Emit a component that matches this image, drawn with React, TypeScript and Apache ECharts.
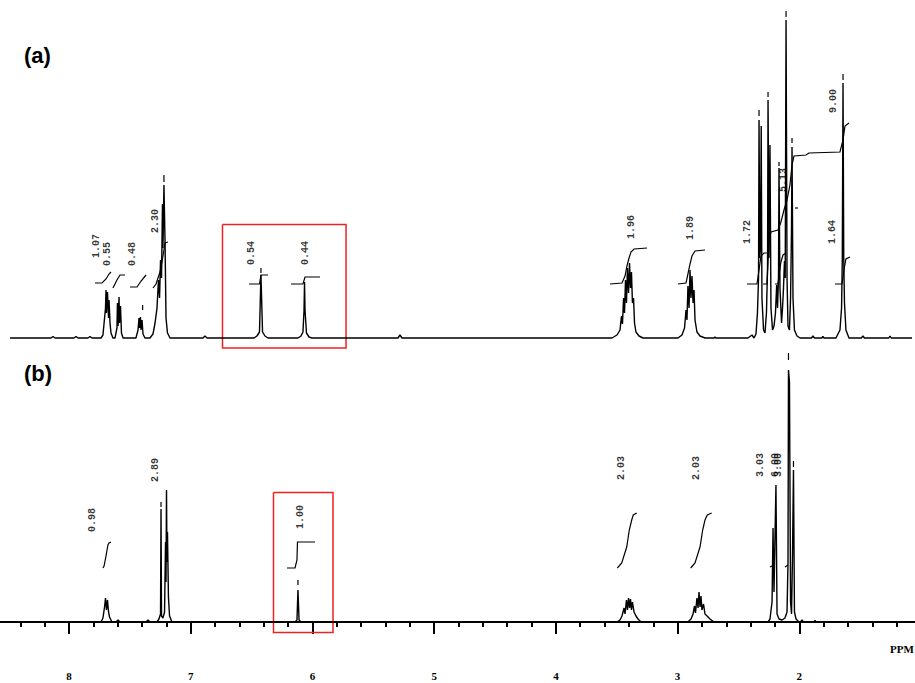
import React, { useEffect, useRef } from 'react';
import * as echarts from 'echarts';

type P = [number, number];

// ppm axis
const PPM_MIN = 1;
const PPM_MAX = 9;
const TICK_LABELS = [2, 3, 4, 5, 6, 7, 8];

// ---------- spectrum (a): [ppm, intensity] ----------
const spectrumA: P[] = [
  [8.485, 0], [8.148, 0], [8.131, 1.5], [8.115, 0], [7.959, 0], [7.942, 1.5], [7.926, 0],
  [7.844, 0], [7.827, 1.5], [7.811, 0],
  [7.737, 0], [7.721, 3], [7.7, 30], [7.696, 48], [7.692, 25], [7.684, 46], [7.675, 20], [7.671, 38],
  [7.663, 15], [7.655, 5], [7.639, 0],
  [7.622, 0], [7.606, 10], [7.602, 35], [7.597, 12], [7.589, 41], [7.585, 15], [7.577, 32], [7.569, 5], [7.556, 0],
  [7.45, 0], [7.433, 8], [7.425, 20], [7.421, 10], [7.413, 21], [7.408, 8], [7.4, 18], [7.392, 4], [7.376, 0],
  [7.335, 0], [7.31, 4], [7.293, 15], [7.277, 30], [7.265, 58], [7.256, 40], [7.248, 78], [7.24, 60],
  [7.232, 134], [7.228, 90], [7.22, 153], [7.211, 96], [7.203, 20], [7.191, 5], [7.17, 0],
  [6.899, 0], [6.883, 2], [6.866, 0],
  [6.48, 0], [6.456, 2], [6.435, 6], [6.423, 63], [6.41, 6], [6.39, 2], [6.365, 0],
  [6.119, 0], [6.094, 2], [6.078, 6], [6.069, 28], [6.065, 56], [6.061, 28], [6.049, 5], [6.028, 1], [6.004, 0],
  [5.297, 0], [5.281, 3], [5.264, 0],
  [3.539, 0], [3.498, 3], [3.473, 8], [3.461, 22], [3.453, 14], [3.444, 40], [3.436, 25], [3.428, 58],
  [3.42, 35], [3.412, 70], [3.403, 45], [3.395, 75], [3.387, 50], [3.379, 66], [3.371, 35], [3.362, 40],
  [3.354, 15], [3.342, 6], [3.317, 2], [3.284, 0],
  [2.997, 0], [2.964, 3], [2.943, 10], [2.931, 28], [2.923, 18], [2.915, 52], [2.906, 30], [2.898, 68],
  [2.89, 40], [2.882, 62], [2.873, 35], [2.865, 48], [2.857, 18], [2.841, 6], [2.816, 2], [2.775, 0],
  [2.70, 0], [2.693, 1], [2.686, 0],
  [2.422, 0], [2.389, 3], [2.372, 0], [2.356, 4], [2.344, 25], [2.335, 60], [2.331, 218], [2.325, 80],
  [2.319, 90], [2.313, 212], [2.307, 40], [2.294, 8], [2.282, 5], [2.27, 25], [2.261, 70], [2.257, 238],
  [2.249, 80], [2.241, 193], [2.233, 30], [2.22, 8], [2.208, 12], [2.196, 25], [2.186, 53], [2.179, 30],
  [2.171, 60], [2.167, 170], [2.159, 50], [2.146, 15], [2.138, 30], [2.13, 50], [2.122, 77], [2.116, 60],
  [2.109, 318], [2.101, 60], [2.093, 12], [2.081, 8], [2.072, 40], [2.064, 110], [2.06, 191], [2.052, 40],
  [2.04, 8], [2.019, 2], [1.994, 0],
  [1.9, 0], [1.888, 2], [1.876, 0], [1.815, 0], [1.806, 1.5], [1.797, 0],
  [1.699, 0], [1.666, 8], [1.653, 30], [1.647, 78], [1.641, 255], [1.635, 80], [1.629, 35], [1.617, 8], [1.592, 0],
  [1.49, 0], [1.477, 2], [1.465, 0], [1.265, 0], [1.255, 2], [1.245, 0],
  [1.074, 0],
];

// peak-pick marks (a): [ppm, from, to]
const marksA: [number, number, number][] = [
  [7.395, 28, 33], [7.22, 156, 163], [6.423, 65, 70],
  [2.331, 222, 228], [2.257, 241, 246], [2.167, 172, 176], [2.109, 321, 327], [2.06, 195, 200], [1.641, 258, 264],
];

// integral curves (a)
const integralsA: P[][] = [
  [[7.786, 55], [7.729, 55], [7.696, 59], [7.671, 64], [7.655, 66]],
  [[7.639, 50], [7.606, 58], [7.581, 63], [7.54, 63]],
  [[7.499, 51], [7.441, 51], [7.408, 57], [7.367, 63]],
  [[7.31, 50], [7.285, 54], [7.269, 60], [7.252, 66], [7.236, 76], [7.22, 88], [7.211, 95], [7.187, 96]],
  [[6.521, 54], [6.435, 54], [6.423, 63], [6.365, 63]],
  [[6.176, 54], [6.078, 54], [6.061, 61], [5.938, 61]],
  [[3.555, 54], [3.457, 55], [3.432, 62], [3.416, 72], [3.399, 80], [3.383, 86], [3.358, 89], [3.251, 90]],
  [[2.997, 54], [2.931, 55], [2.915, 64], [2.898, 74], [2.882, 82], [2.857, 87], [2.775, 88]],
  [[2.43, 54], [2.348, 54], [2.331, 68], [2.315, 82], [2.29, 85], [2.266, 85]],
  [[2.298, 54], [2.266, 54], [2.257, 76], [2.249, 98], [2.233, 106], [2.175, 108], [2.151, 116], [2.126, 128],
   [2.101, 138], [2.077, 153], [2.06, 173], [2.044, 182], [1.945, 183], [1.921, 185], [1.666, 186],
   [1.641, 198], [1.625, 212], [1.592, 215]],
  [[2.2, 54], [2.175, 54], [2.167, 63], [2.151, 76], [2.134, 83], [2.109, 85]],
  [[2.035, 130], [2.011, 130]],
  [[1.707, 54], [1.649, 54], [1.633, 68], [1.617, 79], [1.584, 81]],
];

// integral values (a): [ppm, height, text]
const labelsA: [number, number, string][] = [
  [7.77, 92, '1.07'], [7.68, 84, '0.55'], [7.482, 84, '0.48'], [7.293, 117, '2.30'],
  [6.497, 85, '0.54'], [6.053, 85, '0.44'], [3.375, 111, '1.96'], [2.89, 110, '1.89'],
  [2.422, 106, '1.72'], [2.134, 158, '5.13'], [1.723, 237, '9.00'], [1.731, 106, '1.64'],
];

// highlighted region (a): [ppm, height] corners
const boxA: P[] = [[6.739, 113.5], [5.724, 113.5], [5.724, -10], [6.739, -10], [6.739, 113.5]];

// ---------- spectrum (b) ----------
const spectrumB: P[] = [
  [8.485, 0],
  [7.737, 0], [7.721, 4], [7.708, 15], [7.7, 24], [7.692, 12], [7.684, 22], [7.675, 10], [7.667, 5], [7.647, 0],
  [7.614, 0], [7.597, 2], [7.581, 0], [7.367, 0], [7.351, 2], [7.335, 0],
  [7.277, 0], [7.261, 3], [7.248, 8], [7.244, 113], [7.24, 6], [7.228, 4], [7.215, 10], [7.207, 80], [7.203, 40],
  [7.199, 132], [7.195, 60], [7.191, 90], [7.183, 25], [7.174, 6], [7.154, 0],
  [6.143, 0], [6.127, 2], [6.119, 32], [6.11, 2], [6.094, 0],
  [3.498, 0], [3.473, 2], [3.457, 6], [3.44, 14], [3.432, 8], [3.42, 22], [3.412, 12], [3.403, 24], [3.395, 14],
  [3.387, 23], [3.379, 12], [3.371, 20], [3.358, 10], [3.342, 6], [3.325, 3], [3.301, 0],
  [2.915, 0], [2.89, 3], [2.873, 8], [2.861, 16], [2.853, 9], [2.841, 24], [2.832, 14], [2.824, 30], [2.816, 15],
  [2.808, 26], [2.8, 12], [2.787, 18], [2.775, 8], [2.758, 6], [2.734, 3], [2.701, 0],
  [2.257, 0], [2.241, 3], [2.224, 20], [2.216, 94], [2.208, 30], [2.192, 137], [2.183, 8], [2.167, 3], [2.142, 2],
  [2.118, 4], [2.101, 10], [2.093, 60], [2.089, 252], [2.081, 240], [2.072, 20], [2.064, 8], [2.056, 67],
  [2.048, 152], [2.04, 10], [2.027, 3], [2.003, 0],
  [1.99, 0], [1.978, 2], [1.966, 0], [1.881, 0], [1.871, 1.5], [1.861, 0],
  [1.049, 0],
];

const marksB: [number, number, number][] = [
  [7.244, 115, 120], [6.119, 37, 42], [2.089, 262, 269], [2.048, 155, 161],
];

const integralsB: P[][] = [
  [[7.721, 54], [7.712, 56], [7.696, 66], [7.68, 77], [7.671, 79], [7.655, 80]],
  [[6.209, 54], [6.143, 54], [6.127, 62], [6.123, 80], [5.979, 80]],
  [[3.495, 54], [3.459, 59], [3.418, 75], [3.397, 92], [3.377, 102], [3.364, 107], [3.336, 109]],
  [[2.892, 54], [2.857, 59], [2.816, 75], [2.794, 92], [2.775, 102], [2.756, 107], [2.72, 109]],
  [[2.241, 55], [2.208, 57]],
  [[2.118, 55], [2.093, 57]],
];

const labelsB: [number, number, string][] = [
  [7.803, 102, '0.98'], [7.293, 152, '2.89'], [6.094, 105, '1.00'], [3.465, 154, '2.03'],
  [2.841, 154, '2.03'], [2.323, 157, '3.03'], [2.192, 157, '6.00'], [2.171, 157, '3.00'],
];

const boxB: P[] = [[6.32, 129.5], [5.831, 129.5], [5.831, -10.5], [6.32, -10.5], [6.32, 129.5]];

// ---------- layout ----------
const PX_PER_PPM = 121.72;
const X_OF_8 = 69;
const W = 915;
const H = 683;
const GRID_LEFT = X_OF_8 - (PPM_MAX - 8) * PX_PER_PPM;
const GRID_RIGHT = W - (X_OF_8 + (8 - PPM_MIN) * PX_PER_PPM);

function polySeries(segs: P[][], gi: number, color: string, width: number) {
  return {
    type: 'custom',
    xAxisIndex: gi,
    yAxisIndex: gi,
    silent: true,
    clip: false,
    data: segs.map((s, i) => [s[0][0], s[0][1], i]),
    renderItem: (params: any, api: any) => {
      const seg = segs[params.dataIndex];
      return {
        type: 'polyline',
        shape: { points: seg.map((p) => api.coord(p)) },
        style: { stroke: color, lineWidth: width, fill: 'none' },
      };
    },
  };
}

function labelSeries(labels: [number, number, string][], gi: number) {
  return {
    type: 'scatter',
    xAxisIndex: gi,
    yAxisIndex: gi,
    silent: true,
    symbolSize: 1,
    itemStyle: { color: 'rgba(0,0,0,0)' },
    data: labels.map(([p, v, t]) => ({ value: [p, v], name: t })),
    label: {
      show: true,
      position: 'inside',
      rotate: 90,
      formatter: '{b}',
      color: '#000',
      fontFamily: 'Liberation Mono',
      fontWeight: 'bold',
      fontSize: 10,
    },
  };
}

function lineSeries(data: P[], gi: number) {
  return {
    type: 'line',
    xAxisIndex: gi,
    yAxisIndex: gi,
    data,
    showSymbol: false,
    silent: true,
    clip: false,
    lineStyle: { color: '#000', width: 1.4 },
  };
}

export default function App() {
  const ref = useRef<HTMLDivElement>(null);
  useEffect(() => {
    const chart = echarts.init(ref.current!, null, { renderer: 'svg', width: W, height: H });
    const markSegs = (m: [number, number, number][]): P[][] => m.map(([p, a, b]) => [[p, a], [p, b]]);
    chart.setOption({
      animation: false,
      backgroundColor: '#fff',
      grid: [
        { left: GRID_LEFT, right: GRID_RIGHT, top: 0, height: 358, outerBoundsMode: 'none', containLabel: false },
        { left: GRID_LEFT, right: GRID_RIGHT, top: 340, height: 317, outerBoundsMode: 'none', containLabel: false },
      ],
      xAxis: [
        { gridIndex: 0, type: 'value', min: PPM_MIN, max: PPM_MAX, inverse: true, show: false },
        {
          gridIndex: 1,
          type: 'value',
          min: PPM_MIN,
          max: PPM_MAX,
          interval: 1,
          inverse: true,
          position: 'bottom',
          axisLine: { show: true, lineStyle: { color: '#000', width: 2 } },
          axisTick: { show: true, length: 12, lineStyle: { color: '#000', width: 2 } },
          minorTick: { show: true, splitNumber: 5, length: 5, lineStyle: { color: '#000', width: 2 } },
          splitLine: { show: false },
          minorSplitLine: { show: false },
          axisLabel: {
            color: '#000',
            fontFamily: 'Liberation Serif',
            fontWeight: 'bold',
            fontSize: 11,
            margin: 13,
            formatter: (v: number) => (TICK_LABELS.includes(v) ? String(v) : ''),
          },
        },
      ],
      yAxis: [
        { gridIndex: 0, type: 'value', min: -20, max: 338, show: false, splitLine: { show: false } },
        { gridIndex: 1, type: 'value', min: -35, max: 282, show: false, splitLine: { show: false } },
      ],
      graphic: [
        { type: 'rect', left: 0, top: 650, shape: { width: 9, height: 12 }, style: { fill: '#fff' }, z: 100 },
        { type: 'text', left: 24, top: 44, style: { text: '(a)', font: 'bold 22px "Liberation Sans", Arial', fill: '#000' } },
        { type: 'text', left: 24, top: 362, style: { text: '(b)', font: 'bold 22px "Liberation Sans", Arial', fill: '#000' } },
        { type: 'text', left: 890, top: 643, style: { text: 'PPM', font: 'bold 11px "Liberation Serif"', fill: '#000' } },
      ],
      series: [
        lineSeries(spectrumA, 0),
        lineSeries(spectrumB, 1),
        polySeries(integralsA, 0, '#000', 1.2),
        polySeries(integralsB, 1, '#000', 1.2),
        polySeries(markSegs(marksA), 0, '#000', 1.2),
        polySeries(markSegs(marksB), 1, '#000', 1.2),
        polySeries([boxA], 0, '#ee2222', 1.5),
        polySeries([boxB], 1, '#ee2222', 1.5),
        labelSeries(labelsA, 0),
        labelSeries(labelsB, 1),
      ],
    });
    return () => chart.dispose();
  }, []);
  return (
    <div
      ref={ref}
      style={{ position: 'fixed', left: 0, top: 0, width: W, height: H, background: '#fff' }}
    />
  );
}
